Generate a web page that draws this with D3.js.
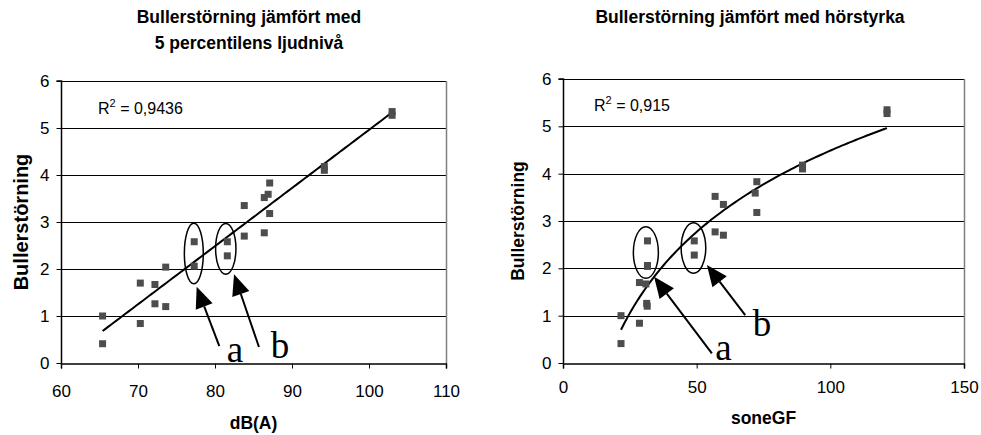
<!DOCTYPE html>
<html><head><meta charset="utf-8">
<script src="https://cdn.jsdelivr.net/npm/d3@7"></script>
<style>body{margin:0;background:#fff}svg{display:block}</style>
</head><body>
<svg id="c" width="981" height="435"></svg>
<script>
// ---- data ----
const dbA   = [65.4,65.4,70.3,70.3,72.2,72.2,73.6,73.6,77.3,77.3,81.6,81.6,83.8,83.8,86.4,86.4,86.9,87.1,87.1,94.2,94.2,103.0,103.0];
const sone  = [21.7,21.7,28.6,28.6,31.0,31.3,31.6,31.5,31.6,31.6,49.1,49.1,60.0,60.0,56.9,56.9,71.9,72.5,72.5,89.6,89.6,121.2,121.2];
const buller= [1.00,0.41,1.70,0.84,1.67,1.26,2.04,1.20,2.58,2.06,2.58,2.28,3.35,2.70,3.52,2.77,3.59,3.83,3.18,4.18,4.10,5.35,5.27];
const yTicks = [0,1,2,3,4,5,6];
const xTicksLeft = [60,70,80,90,100,110];
const xTicksRight = [0,50,100,150];
const trendLinear = [0.1237, -7.41];   // y = a*x + b
const trendLog = [2.477, -6.92];       // y = a*ln(x) + b
const titles = {left:["Bullerstörning jämfört med","5 percentilens ljudnivå"], right:["Bullerstörning jämfört med hörstyrka"]};
const r2 = {left:"0,9436", right:"0,915"};
// annotations in data units: ellipses [cx,cy,rx,ry], arrows [tipX,tipY,tailX,tailY], labels [x,y,text]
const ellLeft = [[77.25,2.33,1.23,0.645],[81.40,2.43,1.32,0.54]];
const arrLeft = [[77.62,1.62,80.56,0.36],[82.47,1.89,85.71,0.34]];
const lblLeft = [[82.6,0.03,"a"],[88.44,0.10,"b"]];
const ellRight = [[31.0,2.335,4.68,0.545],[48.8,2.43,4.6,0.535]];
const arrRight = [[34.08,1.82,55.69,0.205],[53.82,2.07,68.16,1.01]];
const lblRight = [[60.04,0.063,"a"],[74.42,0.57,"b"]];

const svg = d3.select("#c");
const SANS = "'Liberation Sans', Arial, sans-serif";
const SERIF = "'Liberation Serif', 'Times New Roman', serif";

function chart(o){
  const g = svg.append("g");
  const x = d3.scaleLinear().domain(o.xd).range(o.xr);
  const y = d3.scaleLinear().domain([0,6]).range(o.yr);
  // gridlines
  g.selectAll(".grid").data(yTicks.slice(1)).join("line")
    .attr("x1",x(o.xd[0])).attr("x2",x(o.xd[1]))
    .attr("y1",d=>Math.round(y(d))+0.5).attr("y2",d=>Math.round(y(d))+0.5)
    .attr("stroke","#000").attr("stroke-width",1);
  // right border
  g.append("line").attr("x1",Math.round(x(o.xd[1]))+0.5).attr("x2",Math.round(x(o.xd[1]))+0.5)
    .attr("y1",y(6)).attr("y2",y(0)).attr("stroke","#808080").attr("stroke-width",1.5);
  // axes
  const ya = d3.axisLeft(y).tickValues(yTicks).tickSize(5).tickPadding(7).tickFormat(d3.format("d"));
  const yg = g.append("g").attr("transform",`translate(${Math.round(x(o.xd[0]))+0.5},0)`).call(ya);
  const xa = d3.axisBottom(x).tickValues(o.xt).tickSize(5).tickPadding(o.xpad).tickFormat(d3.format("d"));
  const xg = g.append("g").attr("transform",`translate(0,${Math.round(y(0))+0.5})`).call(xa);
  [yg,xg].forEach(a=>{
    a.select(".domain").attr("stroke","#000").attr("stroke-width",1.5);
    a.selectAll(".tick line").attr("stroke","#000");
    a.selectAll("text").attr("font-family",SANS).attr("font-size",17).attr("fill","#000");
  });
  yg.select(".domain").attr("d",`M-5,${y(6)}H0V${y(0)}`);
  // trend
  const [x0,x1] = d3.extent(o.xs);
  const samples = d3.range(0,101).map(i=>x0+(x1-x0)*i/100);
  g.append("path").datum(samples)
    .attr("d",d3.line().x(d=>x(d)).y(d=>y(o.trend(d))))
    .attr("fill","none").attr("stroke","#000").attr("stroke-width",2);
  // points
  g.selectAll(".pt").data(o.xs.map((v,i)=>[v,buller[i]])).join("rect")
    .attr("x",d=>x(d[0])-3.5).attr("y",d=>y(d[1])-3.5).attr("width",7).attr("height",7)
    .attr("fill","#4d4d4d");
  // ellipses
  g.selectAll(".el").data(o.ell).join("ellipse")
    .attr("cx",d=>x(d[0])).attr("cy",d=>y(d[1]))
    .attr("rx",d=>Math.abs(x(d[0]+d[2])-x(d[0]))).attr("ry",d=>Math.abs(y(d[1]+d[3])-y(d[1])))
    .attr("fill","none").attr("stroke","#000").attr("stroke-width",1.5);
  // arrows
  o.arr.forEach(d=>{
    const tx=x(d[0]), ty=y(d[1]), sx=x(d[2]), sy=y(d[3]);
    const L=Math.hypot(tx-sx,ty-sy), ux=(tx-sx)/L, uy=(ty-sy)/L;
    const hl=21, hw=9;
    const bx=tx-ux*hl, by=ty-uy*hl;
    g.append("line").attr("x1",sx).attr("y1",sy).attr("x2",bx).attr("y2",by)
      .attr("stroke","#000").attr("stroke-width",2);
    g.append("path").attr("d",`M${tx},${ty}L${bx-uy*hw},${by+ux*hw}L${bx+uy*hw},${by-ux*hw}Z`).attr("fill","#000");
  });
  o.lbl.forEach(d=>{
    g.append("text").attr("x",x(d[0])).attr("y",y(d[1])).attr("text-anchor","middle")
      .attr("font-family",SERIF).attr("font-size",37).text(d[2]);
  });
  // R2
  const t = g.append("text").attr("x",o.r2x).attr("y",o.r2y).attr("font-family",SANS).attr("font-size",16);
  t.append("tspan").text("R");
  t.append("tspan").attr("dy",-7).attr("font-size",11).text("2");
  t.append("tspan").attr("dy",7).text(" = "+o.r2);
  // titles
  o.title.forEach((s,i)=>{
    g.append("text").attr("x",o.tx).attr("y",23+i*26).attr("text-anchor","middle")
      .attr("font-family",SANS).attr("font-weight","bold").attr("font-size",17.5).text(s);
  });
  g.append("text").attr("x",(o.xr[0]+o.xr[1])/2).attr("y",o.xty).attr("text-anchor","middle")
    .attr("font-family",SANS).attr("font-weight","bold").attr("font-size",17.5).text(o.xtitle);
  g.append("text").attr("transform",`translate(${o.ylx},${(o.yr[0]+o.yr[1])/2}) rotate(-90)`)
    .attr("text-anchor","middle").attr("dominant-baseline","central")
    .attr("font-family",SANS).attr("font-weight","bold").attr("font-size",o.yls).text("Bullerstörning");
}

chart({xd:[60,110], xr:[61,446], yr:[363,81], xt:xTicksLeft, xs:dbA, xpad:16,
  trend:v=>trendLinear[0]*v+trendLinear[1], ell:ellLeft, arr:arrLeft, lbl:lblLeft,
  r2:r2.left, r2x:98, r2y:114, title:titles.left, tx:249, xtitle:"dB(A)", xty:429, ylx:21, yls:20});
chart({xd:[0,150], xr:[563,964], yr:[363,79], xt:xTicksRight, xs:sone, xpad:12.5,
  trend:v=>trendLog[0]*Math.log(v)+trendLog[1], ell:ellRight, arr:arrRight, lbl:lblRight,
  r2:r2.right, r2x:594, r2y:111, title:titles.right, tx:750, xtitle:"soneGF", xty:424, ylx:518, yls:17.5});
</script>
</body></html>
